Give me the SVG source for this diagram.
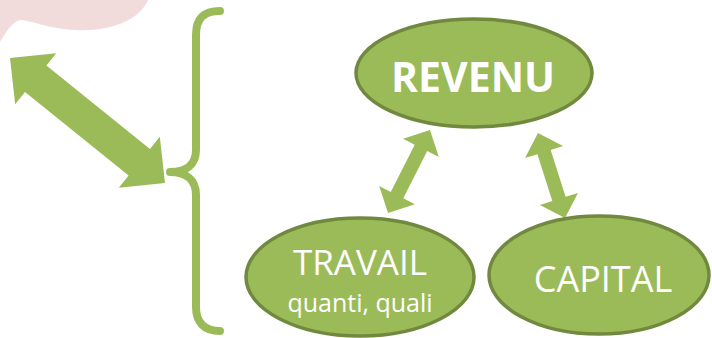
<svg xmlns="http://www.w3.org/2000/svg" width="712" height="338" viewBox="0 0 712 338">
<style>
.node{fill:#9bbb59;stroke:#71893f;stroke-width:3.5}
.arrow{fill:#9bbb59}
.lbl{fill:#ffffff;font-family:"Open Sans","Liberation Sans",sans-serif;text-anchor:middle}
</style>
<rect width="712" height="338" fill="#ffffff"/>
<path d="M0,0 L148,0 C140,20 110,32 75,30 C50,29 30,20 20,20 C12,22 6,32 0,42 Z" fill="#f2dcdb"/>
<g id="connectors">
<polygon class="arrow" points="10,58 56.2,53.3 46.4,65.5 150,149 159.8,136.8 165,183 118.8,187.7 128.6,175.5 25,91.9 15.2,104.2"/>
<polygon class="arrow" points="430,130 438.8,156.9 427.2,151 403.3,198.3 414.9,204.2 388,213 379.2,186.1 390.8,192 414.7,144.7 403.1,138.8"/>
<polygon class="arrow" points="538,133 563.1,146 550.7,150 565.6,196.8 578,192.9 565,218 539.9,205 552.3,201.1 537.4,154.2 525,158.1"/>
</g>
<g id="brace">
<path d="M220,11 C204,11 196,18 196,35 L196,150 C196,165 186,172 170,172 C186,172 196,180 196,195 L196,307 C196,322 204,331 220,331" fill="none" stroke="#9bbb59" stroke-width="8" stroke-linecap="round" stroke-linejoin="round"/>
</g>
<g id="revenu">
<ellipse class="node" cx="474" cy="73" rx="118" ry="54"/>
<text class="lbl" x="473" y="92" font-size="41" font-weight="bold">REVENU</text>
</g>
<g id="travail">
<ellipse class="node" cx="360" cy="277" rx="114" ry="59"/>
<text class="lbl" x="360" y="275" font-size="35">TRAVAIL</text>
<text class="lbl" x="360" y="312" font-size="25">quanti, quali</text>
</g>
<g id="capital">
<ellipse class="node" cx="599" cy="275" rx="110" ry="59"/>
<text class="lbl" x="603" y="292" font-size="36">CAPITAL</text>
</g>
</svg>
